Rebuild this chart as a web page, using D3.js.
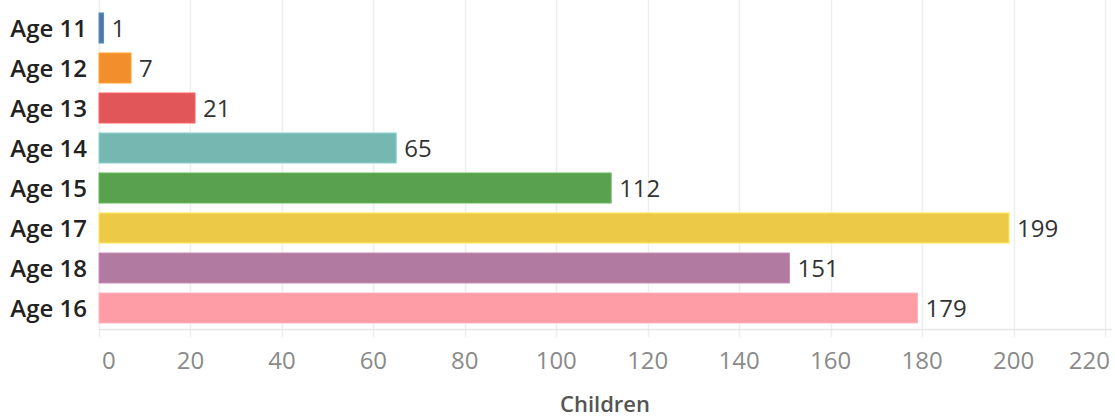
<!DOCTYPE html>
<html lang="en">
<head>
  <meta charset="UTF-8">
  <title>Children by age</title>
  <script src="https://cdn.jsdelivr.net/npm/d3@7/dist/d3.min.js"></script>
  <style>
    body { margin: 0; background: #fff; }
    text { font-family: "Open Sans", "Noto Sans", sans-serif; }
  </style>
</head>
<body>
  <div id="viz"></div>
  <script>
    // data, in display order
    var ages = ["Age 11", "Age 12", "Age 13", "Age 14", "Age 15", "Age 17", "Age 18", "Age 16"];
    var counts = [1, 7, 21, 65, 112, 199, 151, 179];
    var colors = ["#4e79a7", "#f28e2b", "#e15759", "#76b7b2", "#59a14f", "#edc948", "#b07aa1", "#ff9da7"];
    var ticks = [0, 20, 40, 60, 80, 100, 120, 140, 160, 180, 200, 220];

    var width = 1115, height = 420;
    var plotLeft = 99, plotRight = 1105, plotTop = 8, plotBottom = 328;

    var svg = d3.select("#viz").append("svg")
      .attr("width", width)
      .attr("height", height);

    var x = d3.scaleLinear().domain([0, 220]).range([plotLeft, plotRight]);
    var y = d3.scaleBand().domain(ages).range([plotTop, plotBottom]).paddingInner(0.25).paddingOuter(0.125);

    // gridlines
    svg.append("g")
      .selectAll("line")
      .data(ticks)
      .enter().append("line")
      .attr("x1", function(d) { return Math.round(x(d)) + 0.5; })
      .attr("x2", function(d) { return Math.round(x(d)) + 0.5; })
      .attr("y1", 0)
      .attr("y2", 337)
      .attr("stroke", "#eeeeee")
      .attr("stroke-width", 1.5);

    // bottom axis line
    svg.append("line")
      .attr("x1", plotLeft).attr("x2", plotRight + 7)
      .attr("y1", 329.5).attr("y2", 329.5)
      .attr("stroke", "#e6e6e6")
      .attr("stroke-width", 1.5);

    // tick labels
    svg.append("g")
      .selectAll("text")
      .data(ticks)
      .enter().append("text")
      .attr("x", function(d) { return x(d); })
      .attr("y", 369)
      .attr("text-anchor", function(d) { return d === 0 ? "start" : (d === 220 ? "end" : "middle"); })
      .attr("dx", function(d) { return d === 0 ? 3 : (d === 220 ? 5 : 0); })
      .attr("fill", "#8a8a8a")
      .style("font-size", "24px")
      .text(function(d) { return d; });

    // axis title
    svg.append("text")
      .attr("x", 605)
      .attr("y", 412)
      .attr("text-anchor", "middle")
      .attr("fill", "#555")
      .style("font-size", "22px")
      .style("font-weight", "600")
      .text("Children");

    // bars
    svg.append("g")
      .selectAll("rect")
      .data(counts)
      .enter().append("rect")
      .attr("x", x(0))
      .attr("y", function(d, i) { return y(ages[i]); })
      .attr("width", function(d) { return Math.max(2, x(d) - x(0)); })
      .attr("height", y.bandwidth())
      .attr("fill", function(d, i) { return colors[i]; })
      .attr("stroke", function(d, i) { return d3.color(colors[i]).brighter(0.4); })
      .attr("stroke-width", 1);

    // value labels
    svg.append("g")
      .selectAll("text")
      .data(counts)
      .enter().append("text")
      .attr("x", function(d) { return Math.max(x(0) + 2, x(d)) + 8; })
      .attr("y", function(d, i) { return y(ages[i]) + y.bandwidth() / 2; })
      .attr("dy", "0.36em")
      .attr("fill", "#333")
      .style("font-size", "24px")
      .text(function(d) { return d; });

    // category labels
    svg.append("g")
      .selectAll("text")
      .data(ages)
      .enter().append("text")
      .attr("x", 87)
      .attr("y", function(d) { return y(d) + y.bandwidth() / 2; })
      .attr("dy", "0.38em")
      .attr("text-anchor", "end")
      .attr("fill", "#222")
      .style("font-size", "24px")
      .style("font-weight", "600")
      .text(function(d) { return d; });
  </script>
</body>
</html>
